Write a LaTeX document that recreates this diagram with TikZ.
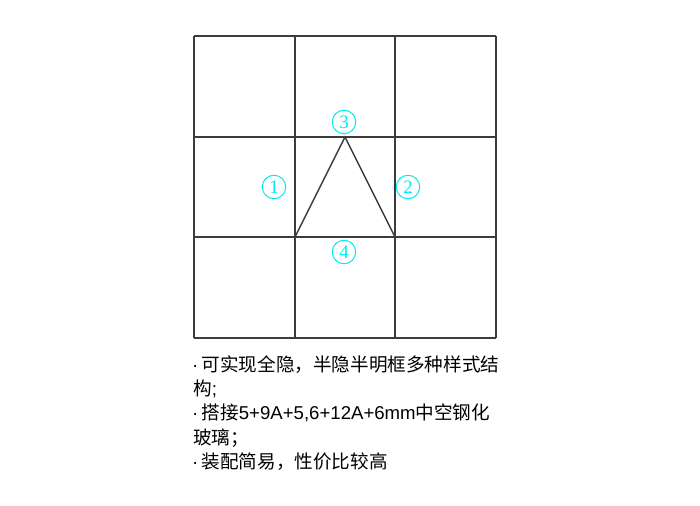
\documentclass[tikz,border=0pt]{standalone}
\usepackage{fontspec}
\setmainfont{Liberation Serif}
\newfontfamily\latn{Liberation Sans}
\newfontfamily\cjk{Noto Sans CJK SC}
\definecolor{gridc}{RGB}{60,60,60}
\definecolor{cy}{RGB}{0,235,235}
\newcommand{\cj}[1]{{\cjk #1}}
\newcommand{\bul}{\makebox[9.5pt][l]{·}}
\begin{document}
\begin{tikzpicture}[x=1pt,y=-1pt,
  gridline/.style={draw=gridc,line width=1.5pt},
  circnum/.style={circle,draw=cy,text=cy,line width=1pt,minimum size=23.5pt,inner sep=0pt,font=\fontsize{19}{19}\selectfont},
  txt/.style={anchor=west,inner sep=0pt,font=\latn\fontsize{18.6}{18.6}\selectfont,text=black}]
\useasboundingbox (0,0) rectangle (700,505);
% grid
\foreach \x in {194,295,395,496} \draw[gridline] (\x,36) -- (\x,338);
\foreach \y in {36,137,237,338} \draw[gridline] (194,\y) -- (496,\y);
% triangle
\coordinate (apex) at (345,137);
\coordinate (bl) at (295,237);
\coordinate (br) at (395,237);
\draw[gridline,line join=miter] (bl) -- (apex) -- (br);
% circled numbers
\node[circnum] (n1) at (274,187) {1};
\node[circnum] (n2) at (408,187) {2};
\node[circnum] (n3) at (344,122) {3};
\node[circnum] (n4) at (344,252) {4};
% text
\node[txt] (t1) at (192,365) {\bul\cj{可实现全隐，半隐半明框多种样式结}};
\node[txt] (t2) at (193,389) {\cj{构};};
\node[txt] (t3) at (192,413) {\bul\cj{搭接}5+9A+5,6+12A+6mm\cj{中空钢化}};
\node[txt] (t4) at (193,438) {\cj{玻璃；}};
\node[txt] (t5) at (192,462) {\bul\cj{装配简易，性价比较高}};
\end{tikzpicture}
\end{document}
